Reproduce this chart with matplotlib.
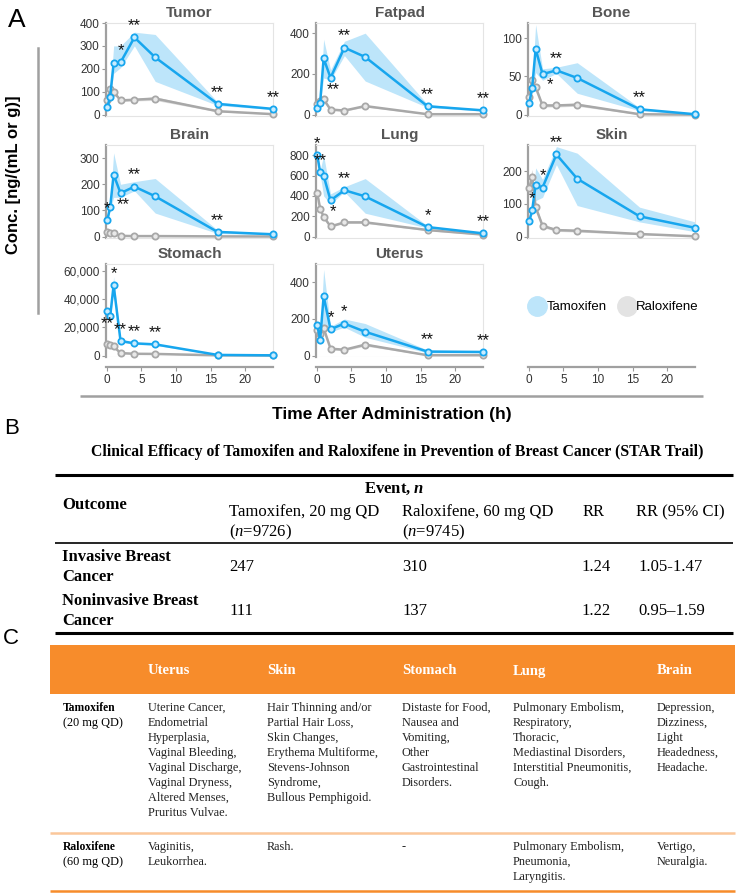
import matplotlib
matplotlib.use("Agg")
import matplotlib.pyplot as plt
from matplotlib.lines import Line2D
from matplotlib.patches import Rectangle
from matplotlib.ticker import FuncFormatter

plt.rcParams['font.family'] = ['Liberation Sans', 'DejaVu Sans']
plt.rcParams['mathtext.fontset'] = 'custom'
plt.rcParams['mathtext.rm'] = 'Liberation Serif'
plt.rcParams['mathtext.it'] = 'Liberation Serif:italic'
plt.rcParams['mathtext.sf'] = 'Liberation Serif:bold:italic'

# ---- panel A data ----
times = [0.083, 0.5, 1, 2, 4, 7, 16, 24]
organs = ["Tumor", "Fatpad", "Bone", "Brain", "Lung", "Skin", "Stomach", "Uterus"]

tam = {
    "Tumor":   [32, 79, 225, 228, 337, 250, 47, 25],
    "Fatpad":  [33, 58, 276, 181, 329, 283, 41, 21],
    "Bone":    [15, 35, 86, 53, 58, 48, 7, 0.5],
    "Brain":   [63, 112, 237, 166, 191, 154, 18, 9],
    "Lung":    [800, 631, 599, 356, 456, 395, 94, 32],
    "Skin":    [48, 80, 158, 150, 251, 177, 62, 27],
    "Stomach": [31800, 27800, 49900, 10400, 8700, 8000, 500, 200],
    "Uterus":  [166, 86, 324, 144, 175, 130, 22, 20],
}
tam_lo = {
    "Tumor":   [25, 70, 180, 205, 300, 145, 40, 22],
    "Fatpad":  [25, 50, 180, 170, 290, 165, 35, 17],
    "Bone":    [10, 30, 55, 45, 54, 28, 5, 0],
    "Brain":   [50, 100, 150, 150, 175, 90, 12, 7],
    "Lung":    [780, 610, 400, 320, 440, 230, 85, 25],
    "Skin":    [40, 70, 110, 120, 220, 95, 45, 15],
    "Stomach": [30000, 26000, 45000, 9500, 8000, 7300, 400, 150],
    "Uterus":  [150, 60, 170, 130, 155, 100, 15, 15],
}
tam_hi = {
    "Tumor":   [40, 90, 300, 300, 360, 350, 55, 28],
    "Fatpad":  [40, 65, 370, 220, 360, 400, 50, 25],
    "Bone":    [20, 42, 118, 60, 62, 68, 9, 1],
    "Brain":   [75, 125, 320, 200, 210, 222, 25, 11],
    "Lung":    [820, 650, 800, 420, 490, 570, 105, 40],
    "Skin":    [55, 90, 210, 175, 275, 255, 90, 45],
    "Stomach": [33500, 29500, 56000, 11300, 9400, 8700, 600, 250],
    "Uterus":  [180, 110, 470, 160, 200, 175, 30, 27],
}
ral = {
    "Tumor":   [65, 110, 100, 62, 65, 70, 15, 2],
    "Fatpad":  [50, 65, 75, 25, 20, 42, 2, 2],
    "Bone":    [23, 45, 36, 12, 12, 13, 0.5, 0],
    "Brain":   [17, 12, 12, 3, 2, 2, 1, 0.5],
    "Lung":    [425, 275, 195, 100, 140, 140, 65, 20],
    "Skin":    [148, 183, 90, 33, 20, 18, 8, 1],
    "Stomach": [8000, 7500, 6500, 1800, 1300, 1200, 200, 100],
    "Uterus":  [140, 120, 150, 38, 32, 60, 2, 2],
}
ral_lo = {
    "Tumor":   [58, 100, 92, 57, 60, 62, 12, 1],
    "Fatpad":  [45, 58, 68, 21, 17, 37, 1, 1],
    "Bone":    [20, 41, 33, 10, 10, 11, 0, 0],
    "Brain":   [13, 9, 9, 2, 1, 1, 0, 0],
    "Lung":    [395, 255, 180, 92, 130, 130, 58, 16],
    "Skin":    [120, 165, 80, 28, 16, 14, 6, 0],
    "Stomach": [7300, 6900, 6000, 1500, 1100, 1000, 150, 50],
    "Uterus":  [128, 105, 140, 32, 27, 52, 1, 1],
}
ral_hi = {
    "Tumor":   [72, 118, 108, 67, 70, 78, 18, 3],
    "Fatpad":  [55, 72, 82, 29, 23, 47, 3, 3],
    "Bone":    [26, 49, 39, 14, 14, 15, 1, 0.5],
    "Brain":   [21, 15, 15, 4, 3, 3, 2, 1],
    "Lung":    [455, 295, 210, 108, 150, 150, 72, 24],
    "Skin":    [175, 205, 100, 38, 24, 22, 10, 2],
    "Stomach": [8700, 8100, 7000, 2100, 1500, 1400, 250, 150],
    "Uterus":  [152, 135, 160, 44, 37, 68, 3, 3],
}
ymax = {"Tumor": 400, "Fatpad": 450, "Bone": 120, "Brain": 350, "Lung": 900,
        "Skin": 280, "Stomach": 65000, "Uterus": 500}
yticks = {"Tumor": [0, 100, 200, 300, 400], "Fatpad": [0, 200, 400], "Bone": [0, 50, 100],
          "Brain": [0, 100, 200, 300], "Lung": [0, 200, 400, 600, 800], "Skin": [0, 100, 200],
          "Stomach": [0, 20000, 40000, 60000], "Uterus": [0, 200, 400]}
# significance marks: (time index, mark, where)
stars = {
    "Tumor":   [(3, "*", "above"), (4, "**", "above"), (6, "**", "above"), (7, "**", "above")],
    "Fatpad":  [(3, "**", "below"), (4, "**", "above"), (6, "**", "above"), (7, "**", "above")],
    "Bone":    [(3, "*", "right"), (4, "**", "above"), (6, "**", "above")],
    "Brain":   [(0, "*", "above"), (3, "**", "below"), (4, "**", "above"), (6, "**", "above")],
    "Lung":    [(0, "*", "above"), (1, "**", "above"), (3, "*", "below"), (4, "**", "above"),
                (6, "*", "above"), (7, "**", "above")],
    "Skin":    [(1, "*", "above"), (3, "*", "above"), (4, "**", "above")],
    "Stomach": [(0, "**", "belowleft"), (2, "*", "above"), (3, "**", "above"), (4, "**", "above"),
                (5, "**", "above")],
    "Uterus":  [(3, "*", "above"), (4, "*", "above"), (6, "**", "above"), (7, "**", "above")],
}
xticks = [0, 5, 10, 15, 20]

# ---- panel B data ----
b_title = "Clinical Efficacy of Tamoxifen and Raloxifene in Prevention of Breast Cancer (STAR Trail)"
b_outcomes = [["Invasive Breast", "Cancer"], ["Noninvasive Breast", "Cancer"]]
b_tam = ["247", "111"]
b_ral = ["310", "137"]
b_rr = ["1.24", "1.22"]
b_ci = ["1.05-1.47", "0.95\u20131.59"]

# ---- panel C data ----
c_organs = ["Uterus", "Skin", "Stomach", "Lung", "Brain"]
c_drugs = [["Tamoxifen", "(20 mg QD)"], ["Raloxifene", "(60 mg QD)"]]
c_tam = [
    ["Uterine Cancer,", "Endometrial", "Hyperplasia,", "Vaginal Bleeding,", "Vaginal Discharge,",
     "Vaginal Dryness,", "Altered Menses,", "Pruritus Vulvae."],
    ["Hair Thinning and/or", "Partial Hair Loss,", "Skin Changes,", "Erythema Multiforme,",
     "Stevens-Johnson", "Syndrome,", "Bullous Pemphigoid."],
    ["Distaste for Food,", "Nausea and", "Vomiting,", "Other", "Gastrointestinal", "Disorders."],
    ["Pulmonary Embolism,", "Respiratory,", "Thoracic,", "Mediastinal Disorders,",
     "Interstitial Pneumonitis,", "Cough."],
    ["Depression,", "Dizziness,", "Light", "Headedness,", "Headache."],
]
c_ral = [
    ["Vaginitis,", "Leukorrhea."],
    ["Rash."],
    ["-"],
    ["Pulmonary Embolism,", "Pneumonia,", "Laryngitis."],
    ["Vertigo,", "Neuralgia."],
]

BLUE = "#17a6ee"
BLUE_BAND = "#bde5fa"
GRAY = "#a8a8a8"
GRAY_BAND = "#dcdcdc"
ORANGE = "#f78c2b"

W, H = 740, 893
fig = plt.figure(figsize=(W / 100, H / 100), dpi=100)


def fx(x):
    return x / W


def fy(y):
    return 1 - y / H


def hline(x0, x1, y, color, lw):
    fig.add_artist(Line2D([fx(x0), fx(x1)], [fy(y), fy(y)], transform=fig.transFigure,
                          color=color, lw=lw, solid_capstyle="butt"))


# axes boxes in pixels: left, top, right, bottom
cols = [(106, 273), (316, 483), (528, 695)]
rows = [(23, 116), (145, 238), (264, 357)]
serif = "Liberation Serif"
star_pos = {"above": ((0, 3), "bottom", "center"), "below": ((2, -3), "top", "center"),
            "belowleft": ((0, -4), "top", "center"), "right": ((3, -2), "top", "left")}

for i, org in enumerate(organs + [None]):
    (l, r), (t, b) = cols[i % 3], rows[i // 3]
    ax = fig.add_axes([fx(l), fy(b), (r - l) / W, (b - t) / H])
    ax.set_xlim(-0.1, 24)
    last_row = i // 3 == 2
    if org is None:
        for s in ["left", "top", "right"]:
            ax.spines[s].set_visible(False)
        ax.set_yticks([])
    else:
        ax.fill_between(times, ral_lo[org], ral_hi[org], color=GRAY_BAND, lw=0)
        ax.fill_between(times, tam_lo[org], tam_hi[org], color=BLUE_BAND, lw=0)
        ax.plot(times, ral[org], color=GRAY, lw=1.8, marker="o", ms=4.5, mfc="#e8e8e8",
                mec=GRAY, mew=1.3, clip_on=False, zorder=3)
        ax.plot(times, tam[org], color=BLUE, lw=1.8, marker="o", ms=4.5, mfc="#c9ecff",
                mec=BLUE, mew=1.3, clip_on=False, zorder=4)
        top = ymax[org]
        ax.set_ylim(-0.015 * top, top)
        ax.set_yticks(yticks[org])
        if org == "Stomach":
            ax.yaxis.set_major_formatter(FuncFormatter(lambda v, p: f"{int(v):,}"))
        ax.set_title(org, fontsize=11, fontweight="bold", color="#555555", pad=4)
        for s in ["top", "right"]:
            ax.spines[s].set_color("#e4e4e4")
            ax.spines[s].set_linewidth(0.8)
        ax.spines["left"].set_color("#a0a0a0")
        ax.spines["left"].set_linewidth(1.6)
        for idx, mark, where in stars[org]:
            off, va, ha = star_pos[where]
            ax.annotate(mark, (times[idx], tam[org][idx]), xytext=off, textcoords="offset points",
                        ha=ha, va=va, fontsize=12, color="#111111", zorder=5)
    ax.tick_params(axis="y", length=3, width=0.8, color="#999999", labelsize=8.5,
                   labelcolor="#333333", pad=1.5)
    if last_row:
        ax.spines["bottom"].set_position(("outward", 7))
        ax.spines["bottom"].set_color("#a0a0a0")
        ax.spines["bottom"].set_linewidth(1.6)
        ax.set_xticks(xticks)
        ax.tick_params(axis="x", length=3, width=0.8, color="#999999", labelsize=8.5,
                       labelcolor="#333333", pad=2)
        if org is not None:
            ax.plot([0, 1], [0, 0], transform=ax.transAxes, color="#e4e4e4", lw=0.8, zorder=0)
    else:
        ax.spines["bottom"].set_color("#e4e4e4")
        ax.spines["bottom"].set_linewidth(0.8)
        ax.set_xticks([])
    if org is None:
        handles = [Line2D([], [], marker="o", ls="none", ms=14, color=BLUE_BAND, label="Tamoxifen"),
                   Line2D([], [], marker="o", ls="none", ms=14, color="#e3e3e3", label="Raloxifene")]
        fig.legend(handles=handles, loc="center", bbox_to_anchor=(fx(614), fy(307)), ncol=2,
                   frameon=False, fontsize=9.5, handletextpad=0.1, columnspacing=0.9,
                   handlelength=1.2)

# panel A decorations
fig.text(fx(17), fy(20), "A", fontsize=19, ha="center", va="center")
fig.add_artist(Line2D([fx(38), fx(38)], [fy(48), fy(313)], transform=fig.transFigure,
                      color="#a0a0a0", lw=1.8))
fig.text(fx(14), fy(175), "Conc. [ng/(mL or g)]", rotation=90, fontsize=12, fontweight="bold",
         ha="center", va="center")
hline(80, 703, 396, "#a0a0a0", 1.8)
fig.text(fx(392), fy(415), "Time After Administration (h)", fontsize=12.5, fontweight="bold",
         ha="center", va="center")

# ---- panel B table ----
fig.text(fx(12), fy(428), "B", fontsize=16, ha="center", va="center")
fig.text(fx(397), fy(452), b_title, family=serif, fontsize=11.3, fontweight="bold",
         ha="center", va="center")
hline(55, 733, 475, "black", 2.2)
fig.text(fx(394), fy(489), r"Event, $\mathsf{n}$", family=serif, fontsize=12, fontweight="bold",
         ha="center", va="center")
fig.text(fx(62), fy(505), "Outcome", family=serif, fontsize=12, fontweight="bold", va="center")
fig.text(fx(229), fy(512), "Tamoxifen, 20 mg QD", family=serif, fontsize=12, va="center")
fig.text(fx(229), fy(532), r"($\it{n}$=9726)", family=serif, fontsize=12, va="center")
fig.text(fx(402), fy(512), "Raloxifene, 60 mg QD", family=serif, fontsize=12, va="center")
fig.text(fx(402), fy(532), r"($\it{n}$=9745)", family=serif, fontsize=12, va="center")
fig.text(fx(583), fy(512), "RR", family=serif, fontsize=12, va="center")
fig.text(fx(636), fy(512), "RR (95% CI)", family=serif, fontsize=12, va="center")
hline(55, 733, 543, "black", 1.2)
for k, y0 in enumerate([567, 611]):
    fig.text(fx(62), fy(y0 - 10), b_outcomes[k][0], family=serif, fontsize=12, fontweight="bold",
             va="center")
    fig.text(fx(62), fy(y0 + 10), b_outcomes[k][1], family=serif, fontsize=12, fontweight="bold",
             va="center")
    fig.text(fx(229), fy(y0), b_tam[k], family=serif, fontsize=12, va="center")
    fig.text(fx(402), fy(y0), b_ral[k], family=serif, fontsize=12, va="center")
    fig.text(fx(581), fy(y0), b_rr[k], family=serif, fontsize=12, va="center")
    fig.text(fx(638), fy(y0), b_ci[k], family=serif, fontsize=12, va="center")
hline(55, 733, 633, "black", 2.2)

# ---- panel C table ----
fig.text(fx(11), fy(638), "C", fontsize=16, ha="center", va="center")
fig.add_artist(Rectangle((fx(50), fy(694)), fx(735) - fx(50), fy(645) - fy(694),
                         transform=fig.transFigure, color=ORANGE, lw=0))
col_x = [148, 267, 402, 513, 657]
for name, x in zip(c_organs, col_x):
    fig.text(fx(x), fy(671), name, family=serif, fontsize=10.5, fontweight="bold", color="white",
             va="center")
for row, (y0, cells) in enumerate([(708, c_tam), (847, c_ral)]):
    fig.text(fx(63), fy(y0), c_drugs[row][0], family=serif, fontsize=8.4, fontweight="bold",
             va="center")
    fig.text(fx(63), fy(y0 + 15), c_drugs[row][1], family=serif, fontsize=8.8, va="center")
    for x, lines in zip(col_x, cells):
        for j, txt in enumerate(lines):
            fig.text(fx(x), fy(y0 + 15 * j), txt, family=serif, fontsize=8.8, color="#222222",
                     va="center")
hline(50, 735, 833, "#fbc79a", 1.8)
hline(50, 735, 891, ORANGE, 1.8)

fig.savefig("out.png", dpi=100)
